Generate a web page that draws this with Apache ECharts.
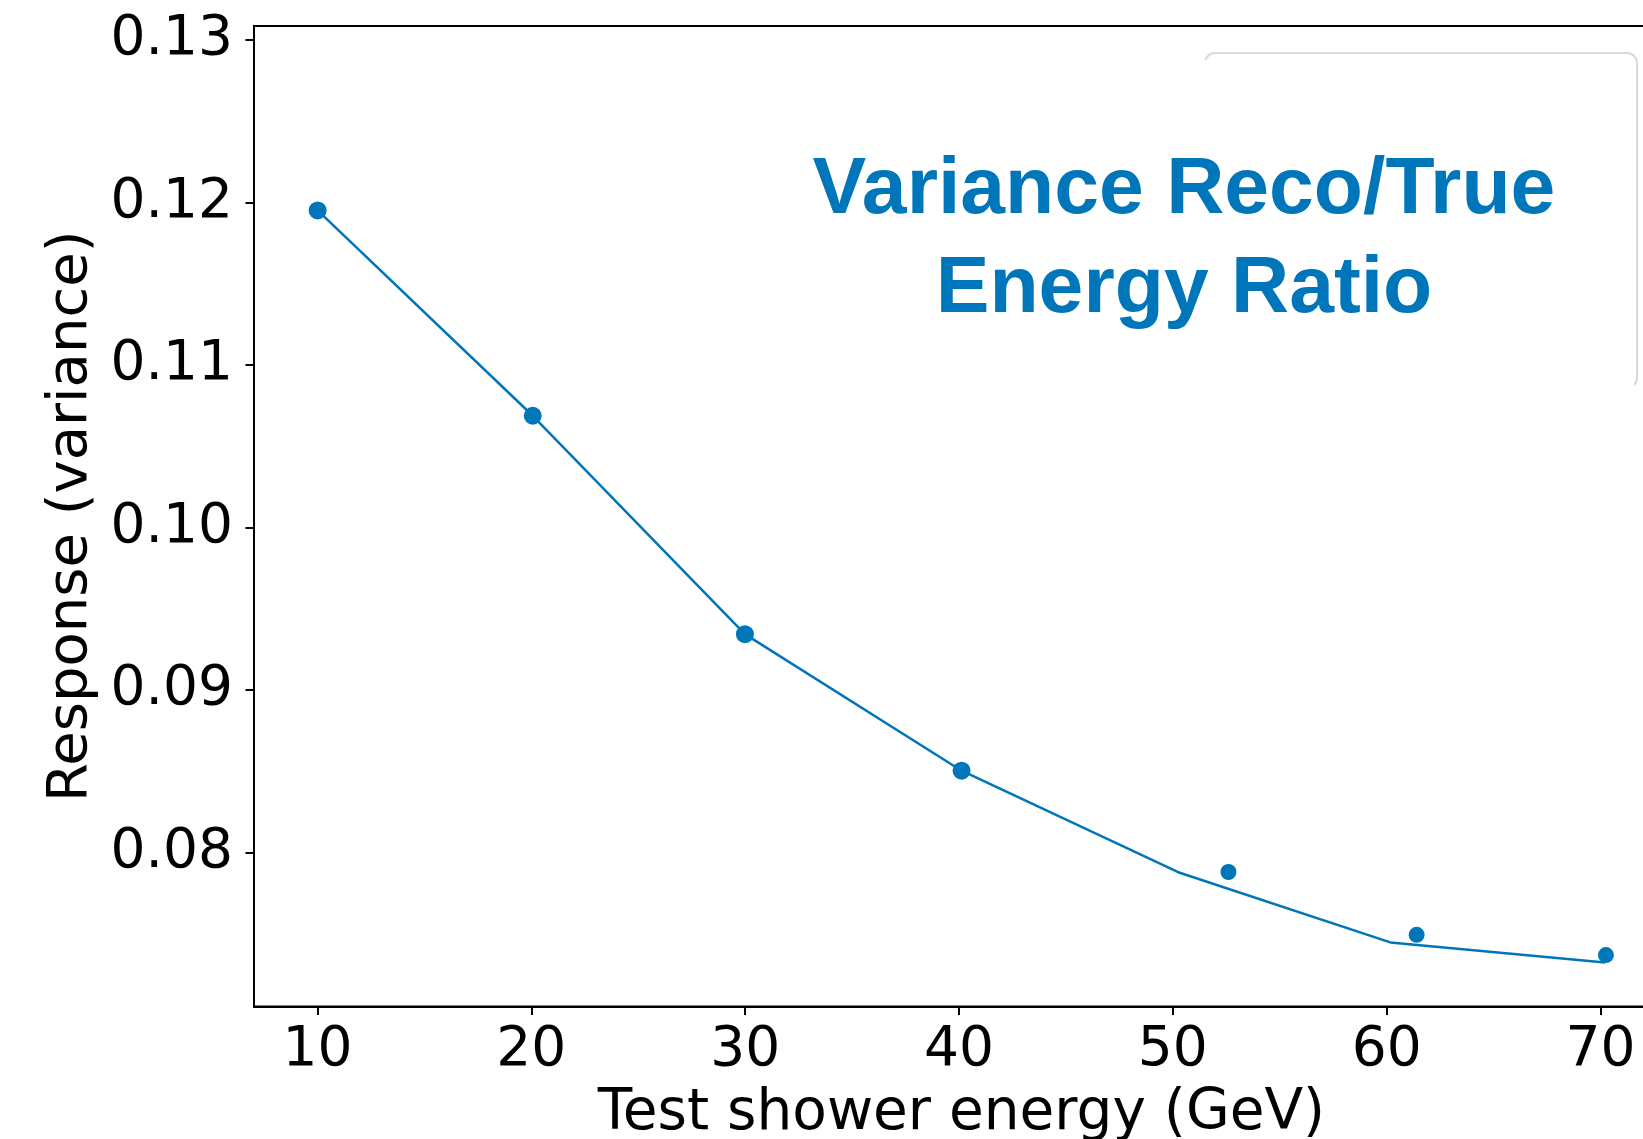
<!DOCTYPE html>
<html>
<head>
<meta charset="utf-8">
<title>Variance Reco/True Energy Ratio</title>
<script src="https://cdn.jsdelivr.net/npm/echarts@6/dist/echarts.min.js"></script>
<style>
  html, body { margin: 0; padding: 0; background: #fff; }
  #chart { width: 1643px; height: 1139px; }
</style>
</head>
<body>
<div id="chart"></div>
<script>
// measured points (scatter)
const pointEnergy = [10.01, 20.07, 29.99, 40.12, 52.6, 61.4, 70.25]
const pointVariance = [0.1195, 0.10687, 0.09344, 0.08504, 0.07881, 0.07495, 0.0737]
// connecting curve
const lineEnergy = [10.01, 20.07, 29.99, 40.12, 50.25, 60.17, 70.21]
const lineVariance = [0.1195, 0.10687, 0.09344, 0.08504, 0.0788, 0.07448, 0.07325]
// tick labels
const xTicks = [10, 20, 30, 40, 50, 60, 70]
const yTicks = [0.08, 0.09, 0.10, 0.11, 0.12, 0.13]

const blue = '#0076ba'
const font = '"DejaVu Sans", sans-serif'

const chart = echarts.init(document.getElementById('chart'))

const options = {
  backgroundColor: '#fff',
  animation: false,
  grid: {
    left: 254,
    top: 26,
    right: -26,
    bottom: 132.5,
    containLabel: false,
    outerBoundsMode: 'none',
    show: true,
    borderColor: '#000',
    borderWidth: 2
  },
  xAxis: {
    type: 'value',
    min: 7.035,
    max: 73.2,
    name: 'Test shower energy (GeV)',
    nameLocation: 'middle',
    nameGap: 79,
    nameTextStyle: { fontFamily: font, fontSize: 56.5, color: '#000' },
    axisLine: { show: true, lineStyle: { color: '#000', width: 2 } },
    axisTick: { show: true, length: 8.5, lineStyle: { color: '#000', width: 2 }, customValues: xTicks },
    axisLabel: {
      customValues: xTicks,
      margin: 17,
      fontFamily: font,
      fontSize: 55,
      color: '#000',
      formatter: v => String(v)
    },
    splitLine: { show: false }
  },
  yAxis: {
    type: 'value',
    min: 0.07054,
    max: 0.13084,
    name: 'Response (variance)',
    nameLocation: 'middle',
    nameGap: 139,
    nameTextStyle: { fontFamily: font, fontSize: 56, color: '#000' },
    axisLine: { show: true, lineStyle: { color: '#000', width: 2 } },
    axisTick: { show: true, length: 8.5, lineStyle: { color: '#000', width: 2 }, customValues: yTicks },
    axisLabel: {
      customValues: yTicks,
      margin: 21,
      fontFamily: font,
      fontSize: 55,
      color: '#000',
      formatter: v => v.toFixed(2)
    },
    splitLine: { show: false }
  },
  series: [
    {
      name: 'curve',
      type: 'line',
      data: lineEnergy.map((x, i) => [x, lineVariance[i]]),
      showSymbol: false,
      lineStyle: { color: blue, width: 2.5 },
      z: 2
    },
    {
      name: 'points',
      type: 'scatter',
      data: pointEnergy.map((x, i) => [x, pointVariance[i]]),
      symbol: 'circle',
      symbolSize: (val, params) => (params.dataIndex < 4 ? 18 : 16),
      itemStyle: { color: blue, opacity: 1 },
      z: 3
    }
  ],
  graphic: [
    {
      type: 'rect',
      z: 10,
      shape: { x: 1205, y: 53, width: 432, height: 335, r: 10 },
      style: { fill: 'none', stroke: '#d9d9d9', lineWidth: 2 }
    },
    {
      type: 'rect',
      z: 11,
      shape: { x: 1150, y: 60, width: 484, height: 345 },
      style: { fill: '#fff' }
    },
    {
      type: 'text',
      z: 12,
      x: 1184,
      y: 190.5,
      style: {
        text: 'Variance Reco/True',
        font: 'bold 80.5px "Liberation Sans", Arial, sans-serif',
        fill: blue,
        align: 'center',
        verticalAlign: 'middle'
      }
    },
    {
      type: 'text',
      z: 12,
      x: 1184,
      y: 289.5,
      style: {
        text: 'Energy Ratio',
        font: 'bold 80.5px "Liberation Sans", Arial, sans-serif',
        fill: blue,
        align: 'center',
        verticalAlign: 'middle'
      }
    }
  ]
}

chart.setOption(options)
</script>
</body>
</html>
